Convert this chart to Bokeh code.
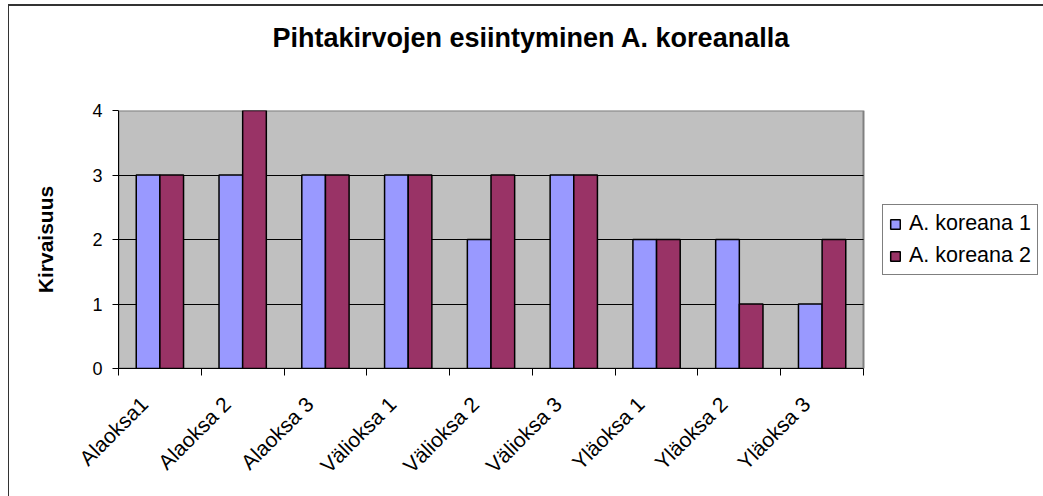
from bokeh.plotting import figure
from bokeh.models import (Range1d, FixedTicker, Legend, LegendItem, ColumnDataSource,
                          Title, BoxAnnotation)
from bokeh.transform import dodge
from bokeh.embed import file_html
from bokeh.resources import INLINE
from math import pi

# ---- data ----
categories = ["Alaoksa1", "Alaoksa 2", "Alaoksa 3", "Välioksa 1", "Välioksa 2",
              "Välioksa 3", "Yläoksa 1", "Yläoksa 2", "Yläoksa 3"]
series_names = ["A. koreana 1", "A. koreana 2"]
koreana1 = [3, 3, 3, 3, 2, 3, 2, 2, 1]
koreana2 = [3, 4, 3, 3, 3, 3, 2, 1, 2]
y_ticks = [0, 1, 2, 3, 4]
title_text = "Pihtakirvojen esiintyminen A. koreanalla"
y_label = "Kirvaisuus"

FONT = "Liberation Sans"
BLUE = "#9999FF"
MAROON = "#993366"

n = len(categories)
ymax = max(y_ticks)
centers = [i + 0.5 for i in range(n)]
src = ColumnDataSource(dict(x=centers, a=koreana1, b=koreana2))

# layout: plot area spans 745 px for the n categories; the frame is extended
# to the right so that the legend (drawn inside the frame) is not clipped
PLOT_W = 745
FRAME_W = 923
x_end = n * FRAME_W / PLOT_W
LABEL_SHIFT = -0.19  # rotated category labels end slightly left of the centre

p = figure(width=1035, height=492, x_range=Range1d(0, x_end), y_range=Range1d(0, ymax),
           output_backend="svg", toolbar_location=None,
           min_border_left=110, min_border_right=1035 - 110 - FRAME_W,
           min_border_top=106, min_border_bottom=128)
p.styles = {"margin-left": "8px", "margin-top": "4px",
            "background-color": "white",
            "box-shadow": "inset 1px 2px 0 0 #333333"}

p.background_fill_color = None
p.border_fill_alpha = 0
p.outline_line_color = None

# grey plot area
p.add_layout(BoxAnnotation(left=0, right=n, bottom=0, top=ymax, level="image",
                           fill_color="#C0C0C0", fill_alpha=1,
                           line_color="#808080", line_width=2, line_alpha=1))

bw = 2 / 7
r1 = p.vbar(x=dodge("x", -bw / 2, range=p.x_range), top="a", width=bw, source=src,
            fill_color=BLUE, line_color="black", line_width=1.5)
r2 = p.vbar(x=dodge("x", bw / 2, range=p.x_range), top="b", width=bw, source=src,
            fill_color=MAROON, line_color="black", line_width=1.5)

# spacer between frame and title, then the title
p.add_layout(Title(text=" ", text_font_size="1px", standoff=50), "above")
p.add_layout(Title(text=title_text, align="left", offset=154, standoff=10,
                   text_font=FONT, text_font_size="27px", text_font_style="bold",
                   text_color="black"), "above")

# grid
inner_ticks = [t for t in y_ticks if 0 < t < ymax]
p.xgrid.visible = False
try:
    p.ygrid.cross_bounds = (0, n)
    p.ygrid.ticker = FixedTicker(ticks=inner_ticks)
    p.ygrid.grid_line_color = "black"
    p.ygrid.grid_line_width = 1
except AttributeError:
    p.ygrid.visible = False
    p.segment(x0=[0] * len(inner_ticks), x1=[n] * len(inner_ticks),
              y0=inner_ticks, y1=inner_ticks, line_color="black", line_width=1,
              level="underlay")

# x axis: labels at category centers, ticks at boundaries
label_pos = [c + LABEL_SHIFT for c in centers]
xa = p.xaxis[0]
xa.bounds = (0, n)
xa.ticker = FixedTicker(ticks=label_pos, minor_ticks=list(range(n + 1)))
xa.major_label_overrides = {c: lab for c, lab in zip(label_pos, categories)}
xa.major_tick_out = 0
xa.major_tick_in = 0
xa.minor_tick_out = 7
xa.minor_tick_in = 0
xa.minor_tick_line_color = "black"
xa.axis_line_color = "black"
xa.major_label_orientation = pi / 4
xa.major_label_text_font = FONT
xa.major_label_text_font_size = "21px"
xa.major_label_text_color = "black"
xa.major_label_standoff = 25

# y axis
ya = p.yaxis[0]
ya.ticker = FixedTicker(ticks=y_ticks)
ya.major_tick_out = 6
ya.major_tick_in = 0
ya.minor_tick_line_color = None
ya.axis_line_color = "black"
ya.major_tick_line_color = "black"
ya.major_label_text_font = FONT
ya.major_label_text_font_size = "18px"
ya.major_label_text_color = "black"
ya.major_label_standoff = 10
ya.axis_label = y_label
ya.axis_label_text_font = FONT
ya.axis_label_text_font_size = "21px"
ya.axis_label_text_font_style = "bold"
ya.axis_label_text_color = "black"
ya.axis_label_standoff = 32

legend = Legend(items=[LegendItem(label=series_names[0], renderers=[r1]),
                       LegendItem(label=series_names[1], renderers=[r2])],
                location=(764, 93))
legend.label_text_font = FONT
legend.label_text_font_size = "21.5px"
legend.label_text_color = "black"
legend.glyph_width = 12
legend.glyph_height = 12
legend.padding = 6
legend.margin = 0
legend.spacing = 7
legend.label_standoff = 8
legend.border_line_color = "black"
legend.border_line_width = 1
legend.background_fill_color = "white"
legend.background_fill_alpha = 1
p.add_layout(legend)

open("out.html", "w").write(file_html(p, INLINE))
